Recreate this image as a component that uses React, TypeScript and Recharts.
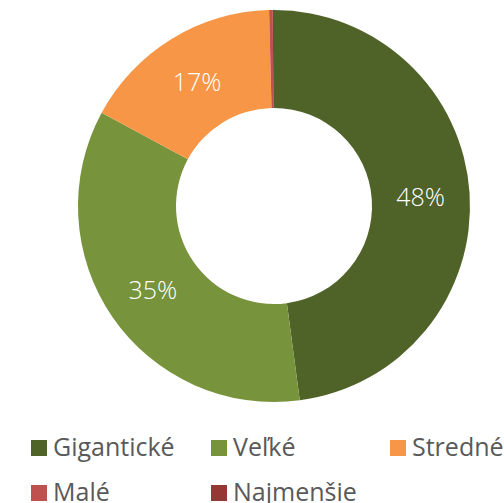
import { PieChart, Pie, Cell, Legend } from "recharts";

const categories = ["Gigantické", "Veľké", "Stredné", "Malé", "Najmenšie"];
const shares = [47.9, 35.0, 16.7, 0.3, 0.1];
const colors = ["#4F6228", "#77933C", "#F79646", "#C0504D", "#953735"];

const data = categories.map((name, i) => ({ name, value: shares[i] }));

const RAD = Math.PI / 180;

const renderLabel = (props: any) => {
  const { cx, cy, midAngle, innerRadius, outerRadius, percent } = props;
  if (percent < 0.05) return null;
  const r = (innerRadius + outerRadius) / 2;
  const x = cx + r * Math.cos(-midAngle * RAD);
  const y = cy + r * Math.sin(-midAngle * RAD);
  return (
    <text
      x={x}
      y={y}
      fill="#fff"
      fontSize={25}
      fontWeight={300}
      textAnchor="middle"
      dominantBaseline="central"
    >
      {`${Math.round(percent * 100)}%`}
    </text>
  );
};

const renderLegend = () => (
  <div
    style={{
      display: "grid",
      gridTemplateColumns: "180px 179px 114px",
      gridAutoRows: "45px",
      paddingLeft: 31,
      fontFamily: "'Open Sans', sans-serif",
      fontSize: 25,
      color: "#595959",
    }}
  >
    {categories.map((name, i) => (
      <div key={name} style={{ display: "flex", alignItems: "center", height: 25, lineHeight: "25px", whiteSpace: "nowrap" }}>
        <span style={{ width: 16, height: 16, background: colors[i], marginRight: 6, marginTop: 2, flex: "none" }} />
        <span>{name}</span>
      </div>
    ))}
  </div>
);

export default function App() {
  return (
    <div style={{ position: "absolute", left: 0, top: 0, width: 504, height: 503, background: "#fff", overflow: "hidden" }}>
      <PieChart
        width={504}
        height={503}
        margin={{ top: 0, right: 0, bottom: 0, left: 0 }}
        style={{ fontFamily: "'Open Sans', sans-serif" }}
      >
        <Pie
          data={data}
          dataKey="value"
          nameKey="name"
          cx={274}
          cy={206}
          innerRadius={98}
          outerRadius={196}
          startAngle={90}
          endAngle={-270}
          stroke="none"
          label={renderLabel}
          labelLine={false}
          isAnimationActive={false}
        >
          {data.map((d, i) => (
            <Cell key={d.name} fill={colors[i]} />
          ))}
        </Pie>
        <Legend
          content={renderLegend}
          wrapperStyle={{ position: "absolute", left: 0, top: 434, width: 504 }}
        />
      </PieChart>
    </div>
  );
}
